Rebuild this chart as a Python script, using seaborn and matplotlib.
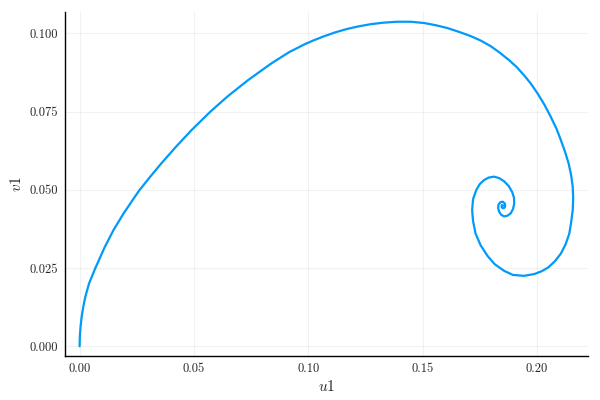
import matplotlib
matplotlib.use("Agg")
import matplotlib.pyplot as plt
import seaborn as sns
import pandas as pd

# phase trajectory (u1, v1), in drawing order
u1 = [0.0000, 0.0001, 0.0004, 0.0009, 0.0016, 0.0025, 0.0041, 0.0069, 0.0110,
      0.0148, 0.0192, 0.0241, 0.0262, 0.0308, 0.0357, 0.0421, 0.0490, 0.0571,
      0.0645, 0.0736, 0.0839, 0.0917, 0.0987, 0.1022, 0.1067, 0.1118, 0.1170,
      0.1219, 0.1272, 0.1329, 0.1389, 0.1447, 0.1506, 0.1557, 0.1608, 0.1658,
      0.1711, 0.1754, 0.1798, 0.1838, 0.1879, 0.1912, 0.1944, 0.1974, 0.2003,
      0.2033, 0.2061, 0.2086, 0.2105, 0.2124, 0.2139, 0.2150, 0.2157, 0.2159,
      0.2157, 0.2150, 0.2142, 0.2126, 0.2105, 0.2078, 0.2050, 0.2022, 0.1990,
      0.1944, 0.1895, 0.1857, 0.1816, 0.1784, 0.1754, 0.1732, 0.1721, 0.1717,
      0.1721, 0.1735, 0.1750, 0.1769, 0.1789, 0.1813, 0.1836, 0.1857, 0.1877,
      0.1892, 0.1900, 0.1901, 0.1896, 0.1886, 0.1871, 0.1857, 0.1844, 0.1835,
      0.1831, 0.1832, 0.1840, 0.1850, 0.1859, 0.1862, 0.1859, 0.1851, 0.1846,
      0.1847, 0.1852]
v1 = [0.0000, 0.0030, 0.0062, 0.0094, 0.0126, 0.0158, 0.0200, 0.0250, 0.0317,
      0.0371, 0.0424, 0.0477, 0.0499, 0.0541, 0.0584, 0.0637, 0.0691, 0.0749,
      0.0797, 0.0850, 0.0904, 0.0940, 0.0966, 0.0977, 0.0990, 0.1003, 0.1014,
      0.1022, 0.1029, 0.1034, 0.1037, 0.1037, 0.1033, 0.1026, 0.1017, 0.1005,
      0.0991, 0.0977, 0.0959, 0.0938, 0.0914, 0.0892, 0.0866, 0.0839, 0.0808,
      0.0772, 0.0733, 0.0695, 0.0659, 0.0620, 0.0584, 0.0547, 0.0509, 0.0473,
      0.0435, 0.0396, 0.0360, 0.0326, 0.0296, 0.0271, 0.0252, 0.0240, 0.0231,
      0.0225, 0.0228, 0.0241, 0.0262, 0.0289, 0.0323, 0.0360, 0.0400, 0.0435,
      0.0470, 0.0499, 0.0518, 0.0531, 0.0539, 0.0542, 0.0537, 0.0527, 0.0512,
      0.0493, 0.0475, 0.0456, 0.0439, 0.0425, 0.0417, 0.0415, 0.0420, 0.0430,
      0.0441, 0.0452, 0.0460, 0.0462, 0.0457, 0.0450, 0.0443, 0.0441, 0.0445,
      0.0451, 0.0450]

xticks = [0.00, 0.05, 0.10, 0.15, 0.20]
xtick_labels = ["0.00", "0.05", "0.10", "0.15", "0.20"]
yticks = [0.000, 0.025, 0.050, 0.075, 0.100]
ytick_labels = ["0.000", "0.025", "0.050", "0.075", "0.100"]

sns.set_style("white")
plt.rcParams["font.family"] = ["cmr10", "DejaVu Serif"]
plt.rcParams["mathtext.fontset"] = "cm"
plt.rcParams["axes.unicode_minus"] = False

df = pd.DataFrame({"u1": u1, "v1": v1})

fig = plt.figure(figsize=(6, 4), dpi=100)
ax = fig.add_axes([0.108, 0.11, 0.872, 0.86])
sns.lineplot(data=df, x="u1", y="v1", sort=False, estimator=None,
             color="#009AFA", linewidth=1.6, ax=ax)

ax.margins(0.03)
ax.set_xticks(xticks, labels=xtick_labels)
ax.set_yticks(yticks, labels=ytick_labels)
ax.grid(True, color="black", alpha=0.05, linewidth=0.8)
ax.tick_params(direction="in", length=4, width=0.8, labelsize=9, color="black",
               pad=5)
for side in ["top", "right"]:
    ax.spines[side].set_visible(False)
for side in ["left", "bottom"]:
    ax.spines[side].set_color("black")
    ax.spines[side].set_linewidth(1.0)

ax.set_xlabel("$u1$", fontsize=11, labelpad=3)
ax.set_ylabel("$v1$", fontsize=11, labelpad=4)

fig.savefig("out.png", dpi=100)
